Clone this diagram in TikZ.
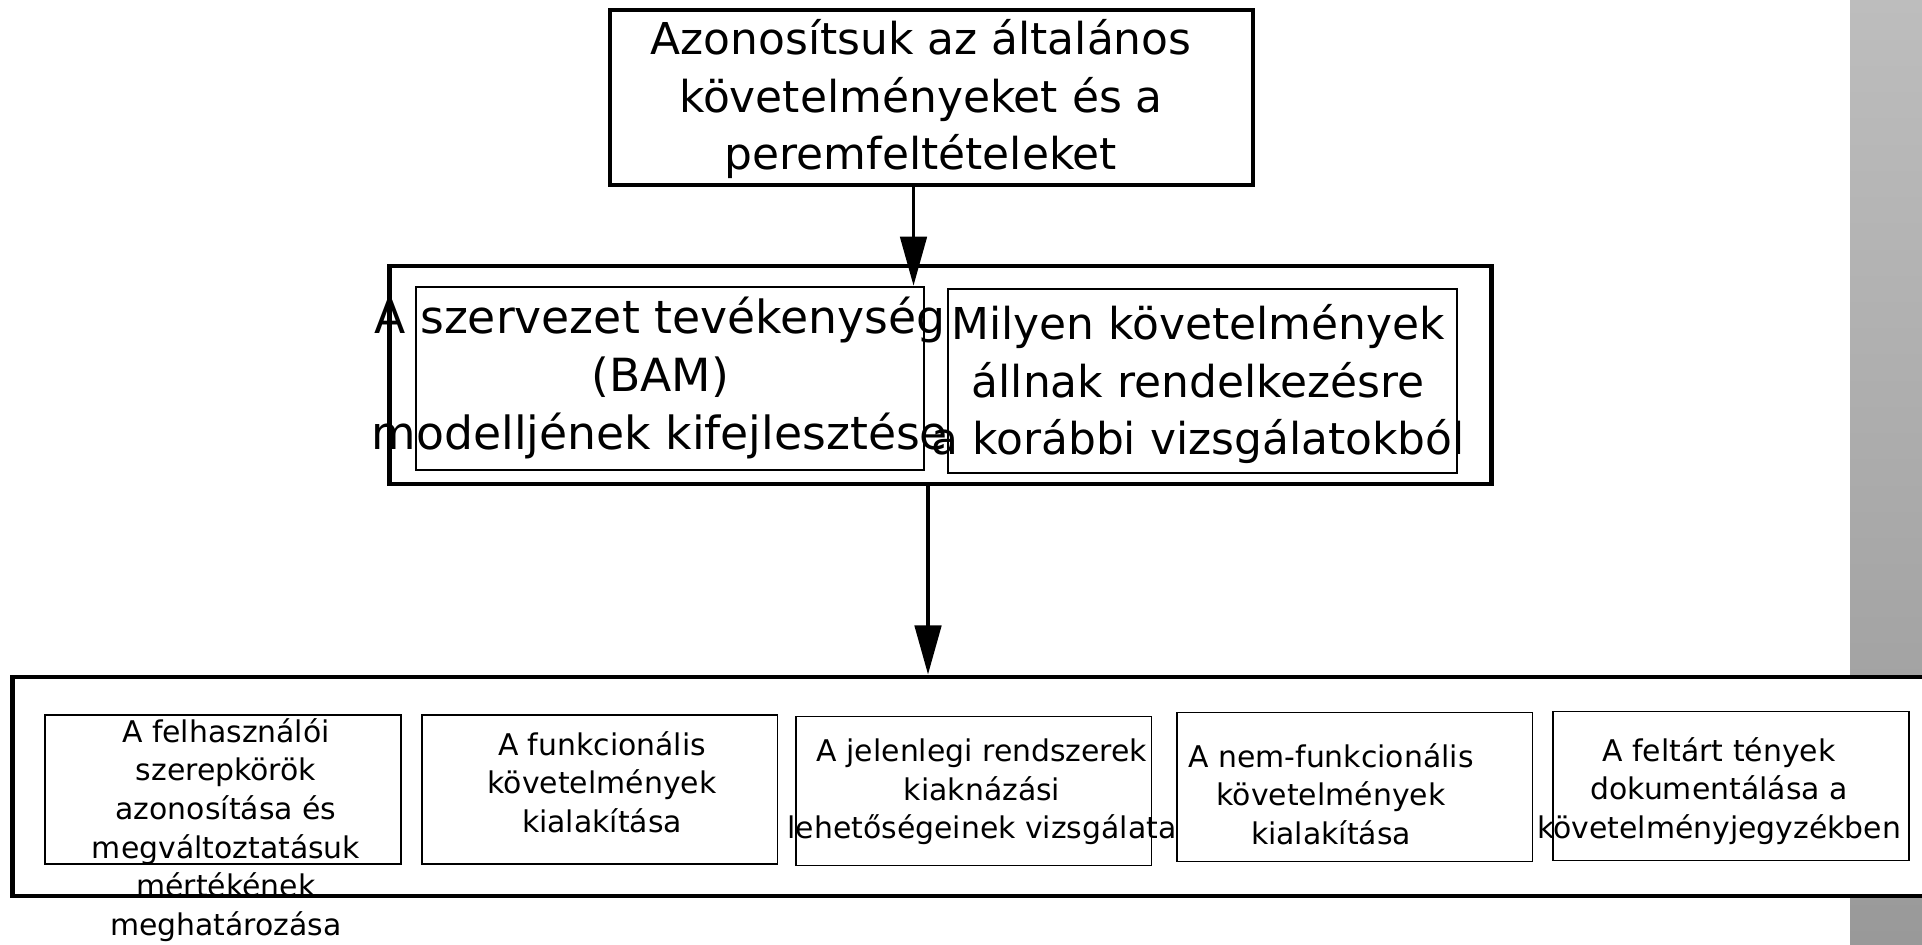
\documentclass[tikz,border=0pt]{standalone}
\usepackage{fontspec}
\setmainfont{DejaVu Sans}
\usepackage{tikz}
\usetikzlibrary{arrows.meta}
\definecolor{bartop}{RGB}{189,189,189}
\definecolor{barbot}{RGB}{153,153,153}

\begin{document}
\begin{tikzpicture}[x=0.02cm,y=-0.02cm,
      outerbox/.style={draw,line width=2.8pt,fill=white},
      innerbox/.style={draw,line width=1.4pt},
      smallbox/.style={draw,line width=1.1pt,minimum width=7.12cm,minimum height=2.98cm},
      bigtxt/.style={align=center,inner sep=0pt,font=\fontsize{25}{32.5}\selectfont},
      smalltxt/.style={align=center,inner sep=0pt,font=\fontsize{17}{22}\selectfont},
      flow/.style={line width=2.2pt,-{Triangle[length=28pt,width=15pt]}}]
      		\useasboundingbox (0,0) rectangle (1922,944);
      		\clip (0,0) rectangle (1922,944);
      		\shade[top color=bartop,bottom color=barbot] (1850,0) rectangle (1922,944);
      		\node[draw,line width=2.4pt,minimum width=12.86cm,minimum height=3.5cm] (top) at (931.5,97.5) {};
      		\node[bigtxt] (toptxt) at (921,99) {Azonosítsuk az általános\\követelményeket és a\\peremfeltételeket};
      		\node[outerbox,minimum width=22.06cm,minimum height=4.36cm] (mid) at (940.5,375) {};
      		\node[innerbox,minimum width=10.16cm,minimum height=3.66cm] (inl) at (670,378.5) {};
      		\node[innerbox,minimum width=10.18cm,minimum height=3.68cm] (inr) at (1202.5,381) {};
      		\node[bigtxt,font=\fontsize{26}{33}\selectfont] (inltxt) at (660,378) {A szervezet tevékenység\\(BAM)\\modelljének kifejlesztése};
      		\node[bigtxt] (inrtxt) at (1198,384) {Milyen követelmények\\állnak rendelkezésre\\a korábbi vizsgálatokból};
      		\node[outerbox,minimum width=38.96cm,minimum height=4.38cm] (low) at (986,786.5) {};
      		\node[smallbox] (roles) at (223,789.5) {};
      		\node[smallbox] (func) at (599.5,789.5) {};
      		\node[smallbox] (legacy) at (973.5,791) {};
      		\node[smallbox] (nonfunc) at (1354.5,787) {};
      		\node[smallbox] (docs) at (1731,786) {};
      		\node[smalltxt] (rolestxt) at (226,830) {A felhasználói\\szerepkörök\\azonosítása és\\megváltoztatásuk\\mértékének\\meghatározása};
      		\node[smalltxt] (functxt) at (602,782) {A funkcionális\\követelmények\\kialakítása};
      		\node[smalltxt] (legacytxt) at (982,792) {A jelenlegi rendszerek\\kiaknázási\\lehetőségeinek vizsgálata};
      		\node[smalltxt] (nonfunctxt) at (1331,794) {A nem-funkcionális\\követelmények\\kialakítása};
      		\node[smalltxt] (docstxt) at (1719,791) {A feltárt tények\\dokumentálása a\\követelményjegyzékben};
      		\draw[flow] ([xshift=-0.36cm]top.south) -- ([xshift=-0.36cm]top.south |- inl.north);
      		\draw[flow] ([xshift=-0.25cm]mid.south) -- ([xshift=-0.25cm]mid.south |- low.north);
    	\end{tikzpicture}
\end{document}
